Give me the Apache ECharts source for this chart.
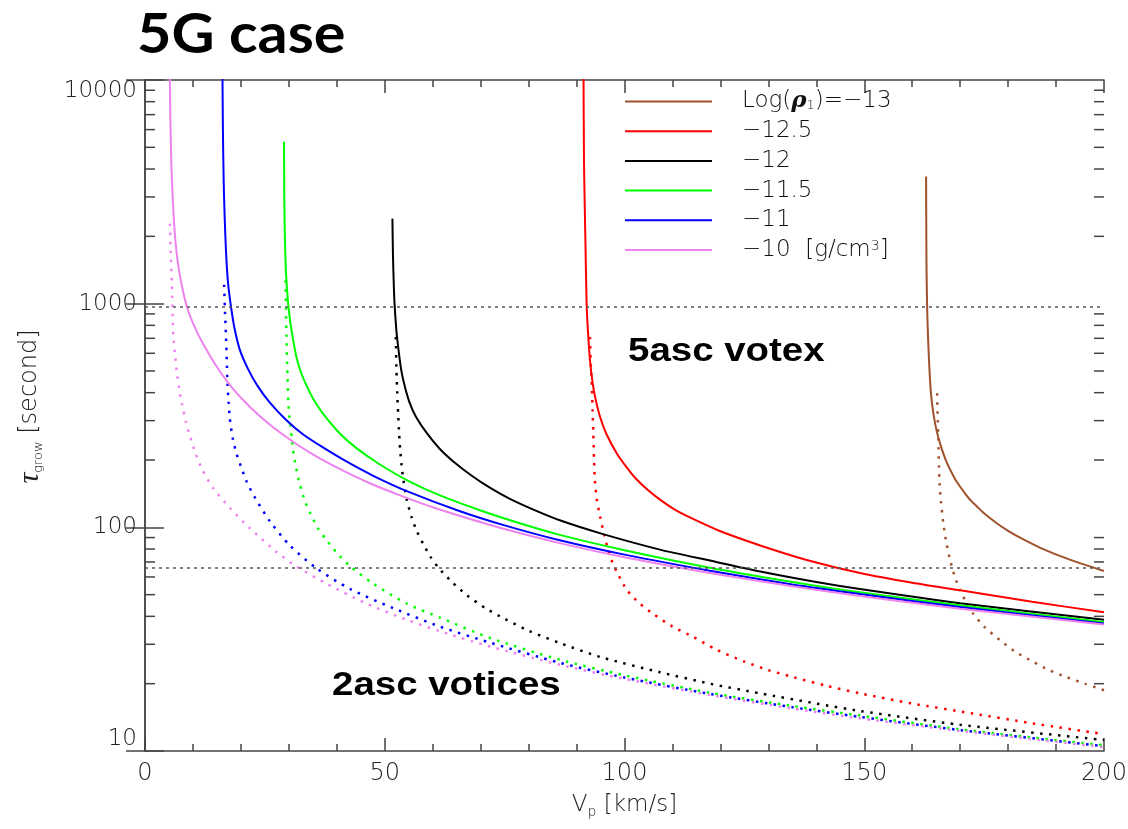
<!DOCTYPE html>
<html><head><meta charset="utf-8">
<script src="https://cdn.jsdelivr.net/npm/echarts@6/dist/echarts.min.js"></script>
<style>html,body{margin:0;padding:0;background:#fff}#c{width:1128px;height:829px}</style>
</head><body><div id="c"></div>
<script>
// ---- data (V_p [km/s], tau_grow [s]) ----
const brownSolid = [[162.9,3706],[162.93,2300],[162.97,1600],[163.05,1150],[163.2,820],[163.5,560],[163.9,400],[164.4,325],[165.1,270],[166,230],[167.2,195],[168.9,165],[169.9,153],[171,142],[172.2,132],[173.5,124],[174.8,116.5],[176.2,110],[178,103],[180,96.5],[183,88.7],[186.7,81],[193,71.5],[200,63.8]];
const redSolid = [[91.45,11000],[91.55,4400],[91.7,2800],[91.85,1900],[92.1,1000],[92.4,740],[92.8,560],[93.3,450],[93.9,380],[94.9,312],[96.2,262],[98.4,214],[100.5,185],[102.5,164],[105,146],[107.4,133],[110.5,120],[114.3,109],[120,96],[128.3,83],[138,71.5],[149.1,62.5],[160,56.5],[170,52.3],[185,46.5],[200,41.7]];
const blackSolid = [[51.6,2400],[51.7,1700],[51.8,1400],[52.0,1040],[52.4,770],[52.8,640],[53.4,510],[54.2,425],[55.2,360],[56.5,312],[58.7,265],[61.5,224],[64.3,197],[68,171],[72,150],[76.1,134],[81,120],[86.5,107.5],[95,94],[107.4,79.5],[117.8,71],[128.3,63.5],[140,57],[149.1,53],[170,45.8],[200,38.6]];
const greenSolid = [[29.0,5300],[29.05,3000],[29.15,2100],[29.35,1450],[29.6,1180],[29.9,975],[30.4,800],[31.0,670],[31.6,575],[32.5,495],[33.7,430],[35.1,375],[37,325],[40.7,262],[44.1,226],[49,191],[55,161],[61.5,139],[70,119],[78,104.5],[86.5,92.5],[100,79],[117.8,66],[135,57],[149.1,51.2],[170,44.8],[200,37.7]];
const blueSolid = [[16.15,11000],[16.25,6000],[16.4,3600],[16.6,2500],[16.9,1700],[17.3,1250],[17.9,980],[18.7,770],[19.8,620],[21.5,510],[23.5,428],[26,362],[29.5,301],[33,260],[37.2,227],[42,197],[47.6,170],[55,144],[65.7,118],[75,102],[86.5,87.5],[100,75.5],[117.8,64],[135,55.5],[149.1,50.3],[170,44],[200,37.2]];
const violetSolid = [[5.15,11000],[5.3,6500],[5.5,4200],[5.8,2900],[6.3,1950],[7.0,1450],[8.0,1120],[9.0,930],[10.8,750],[12.5,640],[14.9,525],[18,425],[21.9,345],[26,288],[30.2,247],[35,212],[40.7,182],[47,157],[53.2,139],[60,123],[66.6,111],[76,97],[86.5,85],[100,73.5],[117.8,62.5],[135,54.5],[149.1,49.3],[170,43.3],[200,36.8]];

const brownDot = [[165.2,398],[165.3,320],[165.45,245],[165.6,185],[165.7,157],[166.0,130],[166.5,104],[167.1,86],[167.9,71.5],[168.9,60],[170.0,52.3],[171.3,46],[172.7,41.2],[175,36],[178.3,31.3],[181.5,27.8],[185.3,25],[188.5,23],[192.2,21.4],[196,20],[200,18.7]];
const redDot = [[92.8,709],[93.0,520],[93.2,424],[93.35,330],[93.5,262],[93.65,200],[93.8,165],[94.2,134],[94.9,112],[95.8,92],[97.0,74],[98.6,62],[100.5,52.5],[103,46],[106.0,41],[110,36],[114.3,32.4],[119,28.5],[124.8,25.2],[130,23],[135.2,21.4],[142,19.6],[149.1,18.1],[160,16.3],[172.7,14.7],[185,13.3],[200,11.9]];
const blackDot = [[52.3,709],[52.45,500],[52.6,400],[52.8,320],[53.0,262],[53.2,225],[53.5,190],[53.9,162],[54.6,133],[55.6,111],[56.7,96],[58.0,84.5],[59.5,74],[61.2,66],[64,57],[67,50],[71,43.5],[75,39],[80,34.5],[86.5,30.4],[95,26.3],[107.4,22.5],[117.8,20],[128.3,18.1],[140,16.3],[149.1,15.1],[170,13.1],[200,11.2]];
const greenDot = [[29.3,1271],[29.4,950],[29.5,720],[29.7,480],[29.9,360],[30.2,300],[30.6,253],[30.9,221],[31.5,185],[32.3,155],[33.4,130],[34.7,113],[36.2,98],[37.9,87.5],[40,77],[42.8,67],[47.6,56],[54.6,45.6],[61.5,39.5],[72,32],[86.5,25.6],[100,21.8],[117.8,18.2],[135,15.9],[149.1,14.4],[170,12.5],[200,10.6]];
const blueDot = [[16.5,1216],[16.7,900],[16.9,709],[17.05,560],[17.2,440],[17.45,360],[17.7,305],[18.3,250],[19.1,213],[20.1,185],[21.2,160],[23.0,135],[26.1,106],[30.2,83],[35.8,65.5],[42.8,53],[51.8,43.5],[61.5,36],[72,30.5],[86.5,24.8],[100,21.3],[117.8,18],[135,15.7],[149.1,14.2],[170,12.4],[200,10.5]];
const violetDot = [[5.2,2278],[5.35,1700],[5.6,1228],[5.9,720],[6.3,580],[6.6,503],[7.1,420],[7.7,357],[8.5,298],[9.4,255],[10.5,215],[12,180],[14.2,150],[17.7,122],[21.9,99],[27.3,78],[31.5,67],[37.9,56],[46.2,45.6],[54.6,38.6],[61.5,34.3],[72,29.3],[86.5,24.3],[100,21],[117.8,17.8],[135,15.5],[149.1,14.0],[170,12.3],[200,10.4]];

const legendNames = ['−13','−12.5','−12','−11.5','−11','−10'];
const colors = ['#A0522D','#FF0000','#000000','#00FF00','#0000FF','#EE82EE'];
const refLevels = [970, 66];
const yMinorTicks = [20,30,40,50,60,70,80,90,200,300,400,500,600,700,800,900,2000,3000,4000,5000,6000,7000,8000,9000];

// ---- chart ----
const solids = [brownSolid, redSolid, blackSolid, greenSolid, blueSolid, violetSolid];
const dots = [brownDot, redDot, blackDot, greenDot, blueDot, violetDot];
const FONT = 'DejaVu Sans';
const FW = 200;
const AX = '#444';
const series = [];
solids.forEach((d, i) => {
  series.push({
    name: legendNames[i], type: 'line', data: d, symbol: 'none', showSymbol: false,
    smooth: 0.25, clip: true, z: 3,
    lineStyle: { color: colors[i], width: 2 }, itemStyle: { color: colors[i] }
  });
});
dots.forEach((d, i) => {
  series.push({
    name: 'dot' + i, type: 'line', data: d, symbol: 'none', showSymbol: false,
    smooth: 0.25, clip: true, z: 2,
    lineStyle: { color: colors[i], width: 2.5, type: [2.5, 6.5] }
  });
});
series.push({
  name: 'ref', type: 'line', data: [], symbol: 'none', silent: true,
  markLine: {
    silent: true, symbol: 'none', label: { show: false },
    lineStyle: { color: '#555', width: 1.5, type: [3, 4] },
    data: refLevels.map(v => ({ yAxis: v }))
  }
});
series.push({
  name: 'minorTicks', type: 'custom', silent: true, clip: false, z: 5,
  data: yMinorTicks.map(v => [0, v]),
  renderItem: function (params, api) {
    const y = api.coord([0, api.value(1)])[1];
    const cs = params.coordSys;
    const st = { stroke: AX, lineWidth: 1.5 };
    return { type: 'group', children: [
      { type: 'line', shape: { x1: cs.x, y1: y, x2: cs.x + 10, y2: y }, style: st },
      { type: 'line', shape: { x1: cs.x + cs.width, y1: y, x2: cs.x + cs.width - 10, y2: y }, style: st }
    ]};
  }
});

const axisLine = { show: true, lineStyle: { color: AX, width: 1.5 } };
const chart = echarts.init(document.getElementById('c'), null, { renderer: 'canvas' });
chart.setOption({
  animation: false,
  backgroundColor: '#fff',
  grid: { left: 145, top: 80, width: 959, height: 671, containLabel: false, outerBoundsMode: 'none' },
  legend: {
    data: legendNames, orient: 'vertical', left: 625, top: 90, padding: 0,
    icon: 'rect', itemWidth: 87, itemHeight: 2, itemGap: 6.7, selectedMode: false,
    formatter: function (n) {
      if (n === '−13') return 'Log({r|ρ}{s|1})=−13';
      if (n === '−10') return '−10  [g/cm{p|3}]';
      return n;
    },
    textStyle: { fontFamily: FONT, fontWeight: FW, fontSize: 23, color: '#111', lineHeight: 22, padding: [0, 0, 0, 25],
      rich: {
        r: { fontFamily: 'DejaVu Serif', fontStyle: 'italic', fontWeight: 'bold', fontSize: 23, lineHeight: 22 },
        s: { fontFamily: FONT, fontWeight: FW, fontSize: 13, lineHeight: 22, verticalAlign: 'bottom', padding: [8, 0, 0, 0] },
        p: { fontFamily: FONT, fontWeight: FW, fontSize: 14, lineHeight: 22, verticalAlign: 'top', padding: [0, 0, 8, 0] }
      } }
  },
  xAxis: [{
    type: 'value', min: 0, max: 200, interval: 50, position: 'bottom',
    name: '{v|V}{s|p}{v| [km/s]}', nameLocation: 'middle', nameGap: 40, nameMoveOverlap: false,
    nameTextStyle: { fontFamily: FONT, fontWeight: FW, fontSize: 23, color: '#222',
      rich: { v: { fontFamily: FONT, fontWeight: FW, fontSize: 23, lineHeight: 28 },
              s: { fontFamily: FONT, fontWeight: FW, fontSize: 14, lineHeight: 28, verticalAlign: 'bottom', padding: [10, 0, 0, 0] } } },
    axisLine: axisLine,
    axisTick: { show: true, inside: true, length: 13, lineStyle: { color: AX, width: 1.5 } },
    minorTick: { show: true, splitNumber: 5, length: 7, lineStyle: { color: AX, width: 1.5 } },
    splitLine: { show: false }, minorSplitLine: { show: false },
    axisLabel: { fontFamily: FONT, fontWeight: FW, fontSize: 24, color: '#222', margin: 11 }
  }, {
    type: 'value', min: 0, max: 200, interval: 50, position: 'top',
    axisLine: axisLine,
    axisTick: { show: true, inside: true, length: 13, lineStyle: { color: AX, width: 1.5 } },
    minorTick: { show: true, splitNumber: 5, length: 7, lineStyle: { color: AX, width: 1.5 } },
    splitLine: { show: false }, axisLabel: { show: false }
  }],
  yAxis: [{
    type: 'log', logBase: 10, min: 10, max: 10000, position: 'left',
    name: '{t|τ}{s|grow}{v| [second]}', nameLocation: 'middle', nameGap: 100, nameRotate: 90, nameMoveOverlap: false,
    nameTextStyle: { fontFamily: FONT, fontWeight: FW, fontSize: 24, color: '#222', padding: [0, 0, 0, 18],
      rich: { t: { fontFamily: 'Liberation Serif', fontStyle: 'italic', fontSize: 30, lineHeight: 30 },
              s: { fontFamily: FONT, fontWeight: FW, fontSize: 13, lineHeight: 30, verticalAlign: 'bottom', padding: [10, 0, 0, 0] },
              v: { fontFamily: FONT, fontWeight: FW, fontSize: 24, lineHeight: 30 } } },
    axisLine: axisLine,
    axisTick: { show: true, inside: true, length: 19, lineStyle: { color: AX, width: 1.5 } },
    minorTick: { show: false }, splitLine: { show: false },
    axisLabel: { fontFamily: FONT, fontWeight: FW, fontSize: 23, color: '#222', margin: 8,
      verticalAlignMaxLabel: 'top', verticalAlignMinLabel: 'bottom',
      formatter: v => String(Math.round(v)) }
  }, {
    type: 'log', logBase: 10, min: 10, max: 10000, position: 'right',
    axisLine: axisLine,
    axisTick: { show: true, inside: true, length: 19, lineStyle: { color: AX, width: 1.5 } },
    minorTick: { show: false }, splitLine: { show: false }, axisLabel: { show: false }
  }],
  graphic: [
    { type: 'text', x: 137, y: 35, scaleX: 1.06, z: 10, silent: true,
      style: { text: '5G case', fontFamily: 'Lato', fontWeight: 'bold', fontSize: 56, fill: '#000', verticalAlign: 'middle', align: 'left' } },
    { type: 'text', x: 628, y: 352, scaleX: 1.165, z: 10, silent: true,
      style: { text: '5asc votex', fontFamily: 'Liberation Sans', fontWeight: 'bold', fontSize: 33, fill: '#000', verticalAlign: 'middle', align: 'left' } },
    { type: 'text', x: 332, y: 686, scaleX: 1.165, z: 10, silent: true,
      style: { text: '2asc votices', fontFamily: 'Liberation Sans', fontWeight: 'bold', fontSize: 33, fill: '#000', verticalAlign: 'middle', align: 'left' } }
  ],
  series: series
});
</script></body></html>
